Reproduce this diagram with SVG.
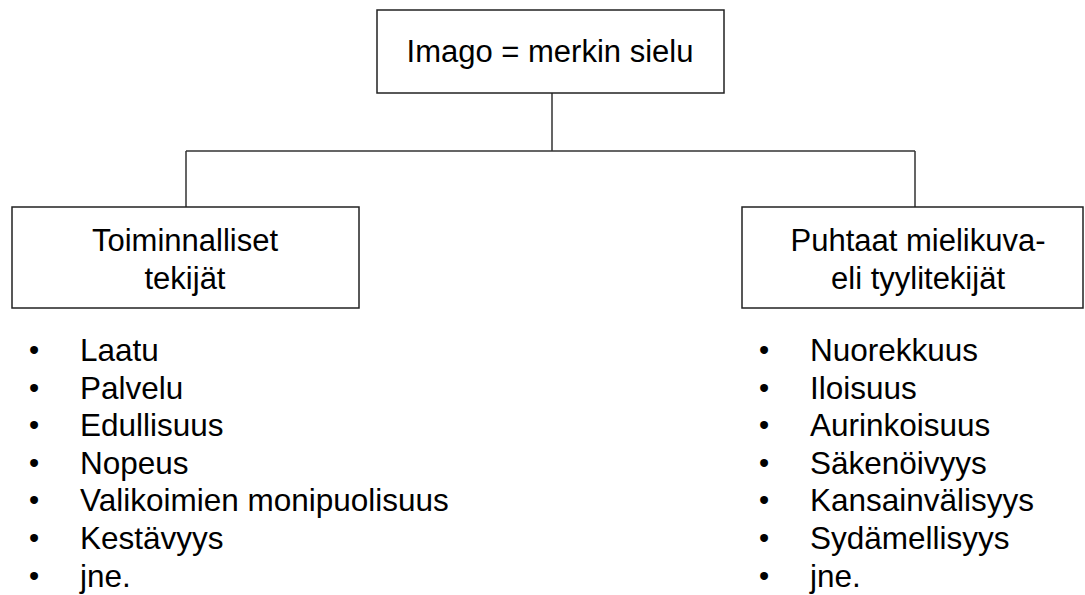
<svg xmlns="http://www.w3.org/2000/svg" width="1085" height="595" viewBox="0 0 1085 595">
<style>
.box{fill:#fff;stroke:#222;stroke-width:1.5}
.con{fill:none;stroke:#333;stroke-width:1.5}
text{font-family:"Liberation Sans",Arial,sans-serif;font-size:31px;fill:#000}
.c{text-anchor:middle}
.li{font-size:31.5px}
.b{font-size:29px;text-anchor:middle}
</style>
<rect width="1085" height="595" fill="#fff"/>
<g id="connectors">
<path class="con" d="M552 93 V151 M186 151 H915 M186 151 V207 M915 151 V207"/>
</g>
<g id="node-imago">
<rect class="box" x="377" y="10" width="347" height="83"/>
<text class="c" x="550" y="62">Imago = merkin sielu</text>
</g>
<g id="node-toiminnalliset">
<rect class="box" x="12" y="207" width="347" height="101"/>
<text class="c" x="185" y="251">Toiminnalliset</text>
<text class="c" x="185" y="289">tekijät</text>
</g>
<g id="node-puhtaat">
<rect class="box" x="742" y="207" width="341" height="101"/>
<text class="c" x="918" y="251">Puhtaat mielikuva-</text>
<text class="c" x="918" y="289">eli tyylitekijät</text>
</g>
<g id="list-left">
<text class="b" x="34" y="360">•</text><text class="li" x="80" y="361">Laatu</text>
<text class="b" x="34" y="397.6">•</text><text class="li" x="80" y="398.6">Palvelu</text>
<text class="b" x="34" y="435.2">•</text><text class="li" x="80" y="436.2">Edullisuus</text>
<text class="b" x="34" y="472.8">•</text><text class="li" x="80" y="473.8">Nopeus</text>
<text class="b" x="34" y="510.4">•</text><text class="li" x="80" y="511.4">Valikoimien monipuolisuus</text>
<text class="b" x="34" y="548">•</text><text class="li" x="80" y="549">Kestävyys</text>
<text class="b" x="34" y="585.6">•</text><text class="li" x="80" y="586.6">jne.</text>
</g>
<g id="list-right">
<text class="b" x="764" y="360">•</text><text class="li" x="810" y="361">Nuorekkuus</text>
<text class="b" x="764" y="397.6">•</text><text class="li" x="810" y="398.6">Iloisuus</text>
<text class="b" x="764" y="435.2">•</text><text class="li" x="810" y="436.2">Aurinkoisuus</text>
<text class="b" x="764" y="472.8">•</text><text class="li" x="810" y="473.8">Säkenöivyys</text>
<text class="b" x="764" y="510.4">•</text><text class="li" x="810" y="511.4">Kansainvälisyys</text>
<text class="b" x="764" y="548">•</text><text class="li" x="810" y="549">Sydämellisyys</text>
<text class="b" x="764" y="585.6">•</text><text class="li" x="810" y="586.6">jne.</text>
</g>
</svg>
